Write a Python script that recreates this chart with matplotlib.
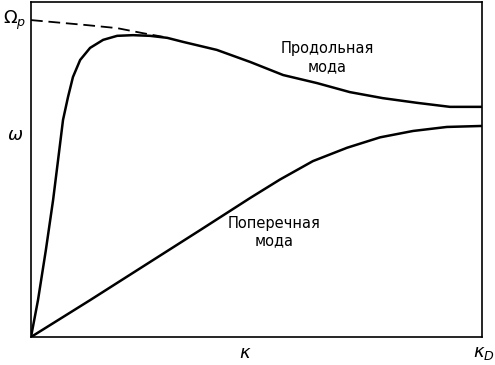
import matplotlib
matplotlib.use("Agg")
import matplotlib.pyplot as plt

# Data (x in units of kappa_D, y in units of axis height)
long_x = [0.0, 0.0155, 0.033, 0.049, 0.060, 0.071, 0.082, 0.093, 0.109, 0.131, 0.160, 0.191, 0.226, 0.264,
          0.302, 0.337, 0.412, 0.486, 0.559, 0.634, 0.707, 0.780, 0.856, 0.929, 1.0]
long_y = [0.0, 0.110, 0.260, 0.409, 0.528, 0.648, 0.716, 0.776, 0.827, 0.863, 0.887, 0.899, 0.901, 0.899,
          0.893, 0.881, 0.857, 0.821, 0.782, 0.758, 0.731, 0.713, 0.699, 0.687, 0.687]

dash_x = [0.0, 0.124, 0.191, 0.248, 0.293]
dash_y = [0.946, 0.931, 0.922, 0.907, 0.896]

trans_x = [0.0, 0.131, 0.375, 0.486, 0.552, 0.625, 0.701, 0.774, 0.847, 0.922, 1.0]
trans_y = [0.0, 0.110, 0.319, 0.415, 0.470, 0.525, 0.565, 0.596, 0.615, 0.627, 0.630]

label_long = "Продольная\nмода"
label_trans = "Поперечная\nмода"

fig = plt.figure(figsize=(4.95, 3.65), dpi=100)
ax = fig.add_axes([31/495, 1-337/365, 451/495, 335/365])
ax.set_xlim(0, 1)
ax.set_ylim(0, 1)

ax.plot(long_x, long_y, color="black", lw=1.8, solid_joinstyle="round", solid_capstyle="round")
ax.plot(trans_x, trans_y, color="black", lw=1.8, solid_joinstyle="round")
ax.plot(dash_x, dash_y, color="black", lw=1.3, dashes=(6.5, 3.2))

for s in ax.spines.values():
    s.set_linewidth(1.2)
ax.set_xticks([])
ax.set_yticks([])

fam = ["Liberation Sans Narrow", "DejaVu Sans"]
ax.text(0.656, 0.834, label_long, ha="center", va="center", fontsize=10.5,
        family=fam, linespacing=1.2)
ax.text(0.539, 0.312, label_trans, ha="center", va="center", fontsize=10.5,
        family=fam, linespacing=1.2)

fig.text(15/495, 1-135/365, r"$\omega$", ha="center", va="center", fontsize=13)
fig.text(15/495, 1-20/365, r"$\Omega_p$", ha="center", va="center", fontsize=13)
fig.text(245/495, 1-353/365, r"$\kappa$", ha="center", va="center", fontsize=13)
fig.text(484/495, 1-353/365, r"$\kappa_D$", ha="center", va="center", fontsize=13)

fig.savefig("out.png", dpi=100)
